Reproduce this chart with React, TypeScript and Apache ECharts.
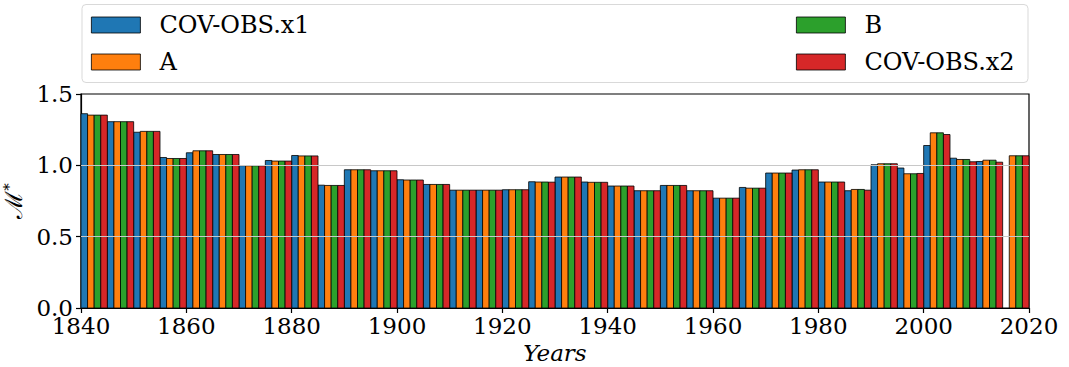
import React, { useEffect, useRef } from "react";
import * as echarts from "echarts";

const groupStarts = [
  1840, 1845, 1850, 1855, 1860, 1865, 1870, 1875, 1880, 1885, 1890, 1895,
  1900, 1905, 1910, 1915, 1920, 1925, 1930, 1935, 1940, 1945, 1950, 1955,
  1960, 1965, 1970, 1975, 1980, 1985, 1990, 1995, 2000, 2005, 2010, 2015,
];
const covObsX1 = [
  1.362, 1.306, 1.232, 1.055, 1.088, 1.076, 0.998, 1.034, 1.069, 0.861, 0.969, 0.962,
  0.899, 0.866, 0.826, 0.826, 0.829, 0.885, 0.918, 0.883, 0.855, 0.822, 0.859, 0.822,
  0.770, 0.845, 0.946, 0.967, 0.883, 0.822, 1.004, 0.981, 1.139, 1.050, 1.027, null,
];
const seriesA = [
  1.352, 1.306, 1.238, 1.048, 1.102, 1.076, 0.997, 1.030, 1.066, 0.859, 0.969, 0.962,
  0.897, 0.866, 0.826, 0.826, 0.829, 0.883, 0.918, 0.881, 0.855, 0.822, 0.859, 0.822,
  0.770, 0.840, 0.946, 0.969, 0.883, 0.831, 1.011, 0.941, 1.228, 1.041, 1.036, 1.067,
];
const seriesB = [
  1.352, 1.306, 1.238, 1.048, 1.102, 1.076, 0.997, 1.030, 1.066, 0.859, 0.969, 0.962,
  0.897, 0.866, 0.826, 0.826, 0.829, 0.883, 0.918, 0.881, 0.855, 0.822, 0.859, 0.822,
  0.770, 0.840, 0.946, 0.969, 0.883, 0.831, 1.011, 0.941, 1.228, 1.041, 1.036, 1.067,
];
const covObsX2 = [
  1.352, 1.306, 1.238, 1.048, 1.102, 1.076, 0.997, 1.030, 1.066, 0.859, 0.969, 0.962,
  0.897, 0.866, 0.826, 0.826, 0.829, 0.882, 0.918, 0.881, 0.855, 0.822, 0.859, 0.822,
  0.770, 0.840, 0.946, 0.969, 0.883, 0.826, 1.011, 0.943, 1.216, 1.025, 1.022, 1.067,
];
const seriesNames = ["COV-OBS.x1", "A", "B", "COV-OBS.x2"];
const seriesColors = ["#1f77b4", "#ff7f0e", "#2ca02c", "#d62728"];
const yTicks = [0, 0.5, 1.0, 1.5];
const gridValues = [0.5, 1.0];

const BAR_W = 1.25;
const FONT = "DejaVu Serif";

export default function App() {
  const ref = useRef<HTMLDivElement>(null);
  useEffect(() => {
    if (!ref.current) return;
    const chart = echarts.init(ref.current, null, { renderer: "svg" });
    const allValues = [covObsX1, seriesA, seriesB, covObsX2];

    const series: any[] = allValues.map((vals, k) => ({
      name: seriesNames[k],
      type: "custom",
      z: 2,
      itemStyle: { color: seriesColors[k], borderColor: "#000", borderWidth: 0.8 },
      encode: { x: 0, y: 1 },
      data: groupStarts
        .map((s, i) => [s + k * BAR_W, vals[i]])
        .filter((d) => d[1] !== null),
      renderItem: (params: any, api: any) => {
        const x0 = api.value(0);
        const v = api.value(1);
        const p0 = api.coord([x0, v]);
        const p1 = api.coord([x0 + BAR_W, 0]);
        return {
          type: "rect",
          shape: { x: p0[0], y: p0[1], width: p1[0] - p0[0], height: p1[1] - p0[1] },
          style: { fill: seriesColors[k], stroke: "#000", lineWidth: 0.8 },
        };
      },
    }));
    series.push({
      name: "grid-lines",
      type: "line",
      data: [],
      z: 5,
      silent: true,
      markLine: {
        silent: true,
        symbol: "none",
        label: { show: false },
        lineStyle: { color: "#c8c8c8", width: 1, type: "solid" },
        data: gridValues.map((g) => ({ yAxis: g })),
      },
    });

    const legendBase = {
      orient: "vertical",
      top: 13,
      padding: 0,
      itemWidth: 49,
      itemHeight: 16,
      itemGap: 13,
      icon: "rect",
      itemStyle: { borderColor: "#000", borderWidth: 0.8 },
      textStyle: { fontSize: 24, fontFamily: FONT, color: "#000", padding: [0, 0, 0, 14] },
    };

    chart.setOption({
      animation: false,
      backgroundColor: "#fff",
      grid: {
        left: 81,
        top: 94,
        width: 948,
        height: 214,
        containLabel: false,
        outerBoundsMode: "none",
        show: true,
        borderColor: "#000",
        borderWidth: 1.2,
        backgroundColor: "transparent",
      },
      legend: [
        { ...legendBase, left: 91, data: [seriesNames[0], seriesNames[1]] },
        { ...legendBase, left: 796, data: [seriesNames[2], seriesNames[3]] },
      ],
      graphic: [
        {
          type: "rect",
          z: 1,
          shape: { x: 82, y: 4.5, width: 946, height: 78, r: 4 },
          style: { fill: "#fff", stroke: "#d9d9d9", lineWidth: 1 },
        },
      ],
      xAxis: {
        type: "value",
        min: 1840,
        max: 2020,
        interval: 20,
        name: "Years",
        nameLocation: "middle",
        nameGap: 30,
        nameTextStyle: { fontSize: 23, fontFamily: FONT, fontStyle: "italic", color: "#000" },
        axisLine: { show: true, lineStyle: { color: "#000", width: 1.2 } },
        axisTick: { show: true, length: 5, lineStyle: { color: "#000", width: 1.2 } },
        axisLabel: {
          fontSize: 23,
          fontFamily: FONT,
          color: "#000",
          margin: 6,
          formatter: (v: number) => String(v),
        },
        splitLine: { show: false },
      },
      yAxis: {
        type: "value",
        min: 0,
        max: 1.5,
        interval: 0.5,
        name: "{m|ℳ}{s|*}",
        nameLocation: "middle",
        nameGap: 48,
        nameRotate: 90,
        nameTextStyle: {
          color: "#000",
          rich: {
            m: { fontSize: 24, fontFamily: FONT, color: "#000" },
            s: { fontSize: 15, fontFamily: FONT, color: "#000", verticalAlign: "top", padding: [0, 0, 10, 0] },
          },
        },
        axisLine: { show: true, lineStyle: { color: "#000", width: 1.2 } },
        axisTick: { show: true, length: 5, lineStyle: { color: "#000", width: 1.2 } },
        axisLabel: {
          fontSize: 23,
          fontFamily: FONT,
          color: "#000",
          margin: 8,
          formatter: (v: number) => (yTicks.includes(v) ? v.toFixed(1) : ""),
        },
        splitLine: { show: false },
      },
      series,
    });
    return () => chart.dispose();
  }, []);
  return (
    <div
      ref={ref}
      style={{ position: "fixed", left: 0, top: 0, width: 1069, height: 367 }}
    />
  );
}
